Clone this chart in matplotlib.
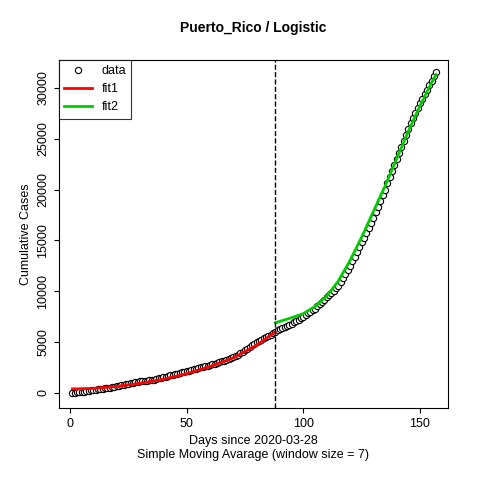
import matplotlib
matplotlib.use("Agg")
import matplotlib.pyplot as plt
import numpy as np

days = np.arange(1, 158)
cases = [
    0, 20, 50, 80, 100, 140, 180, 220, 260, 300,
    330, 360, 390, 420, 450, 490, 530, 570, 610, 650,
    700, 750, 800, 850, 900, 950, 1000, 1050, 1100, 1150,
    1170, 1190, 1210, 1230, 1250, 1310, 1370, 1430, 1490, 1550,
    1610, 1670, 1730, 1790, 1850, 1910, 1970, 2030, 2090, 2150,
    2210, 2270, 2330, 2390, 2450, 2510, 2570, 2630, 2690, 2750,
    2820, 2890, 2960, 3030, 3100, 3180, 3260, 3340, 3420, 3500,
    3640, 3780, 3920, 4060, 4200, 4360, 4520, 4680, 4840, 5000,
    5120, 5240, 5360, 5480, 5600, 5730, 5860, 6000, 6150, 6300,
    6400, 6500, 6600, 6700, 6800, 6940, 7080, 7220, 7360, 7500,
    7660, 7820, 7980, 8140, 8300, 8520, 8740, 8960, 9180, 9400,
    9620, 9840, 10060, 10280, 10500, 10900, 11300, 11700, 12100, 12500,
    12960, 13420, 13880, 14340, 14800, 15280, 15760, 16240, 16720, 17200,
    17760, 18320, 18880, 19440, 20000, 20600, 21200, 21800, 22400, 23000,
    23600, 24200, 24800, 25400, 26000, 26500, 27000, 27500, 28000, 28500,
    28940, 29380, 29820, 30260, 30700, 31150, 31600,
]

fit1_days = [1, 10, 20, 30, 40, 50, 60, 70, 80, 88]
fit1_vals = [400, 450, 650, 950, 1350, 1900, 2600, 3450, 4700, 6000]
fit2_days = [88, 95, 100, 105, 110, 115, 120, 125, 130, 135, 140, 145, 150, 155, 157]
fit2_vals = [6900, 7400, 7800, 8500, 9500, 11000, 13000, 15300, 17800, 20300,
             23000, 25700, 28200, 30500, 31300]
split_day = 88

plt.rcParams["font.family"] = "Liberation Sans"
fig = plt.figure(figsize=(4.8, 4.8), dpi=100)
ax = fig.add_axes([0.123, 0.15, 0.81, 0.725])

ax.plot(days, cases, "o", mfc="white", mec="black", ms=4.5, mew=0.8, label="data")
ax.plot(fit1_days, fit1_vals, color="#ff0000", lw=2, label="fit1")
ax.plot(fit2_days, fit2_vals, color="#00cd00", lw=2, label="fit2")
ax.axvline(split_day, color="black", ls="--", lw=1)

ax.set_xlim(-4.7, 162)
ax.set_ylim(-1475, 32740)
ax.set_xticks([0, 50, 100, 150])
ax.set_yticks(range(0, 30001, 5000))
ax.set_yticklabels([str(v) for v in range(0, 30001, 5000)], rotation=90, va="center")
ax.tick_params(labelsize=9)
ax.set_ylabel("Cumulative Cases", fontsize=9)
ax.set_xlabel("Days since 2020-03-28\nSimple Moving Avarage (window size = 7)", fontsize=9)
ax.set_title("Puerto_Rico / Logistic", fontsize=10, fontweight="bold", pad=20)
leg = ax.legend(loc="upper left", fontsize=9, fancybox=False, edgecolor="black",
                borderaxespad=0, handlelength=2.2)
leg.get_frame().set_linewidth(0.8)

fig.savefig("out.png")
